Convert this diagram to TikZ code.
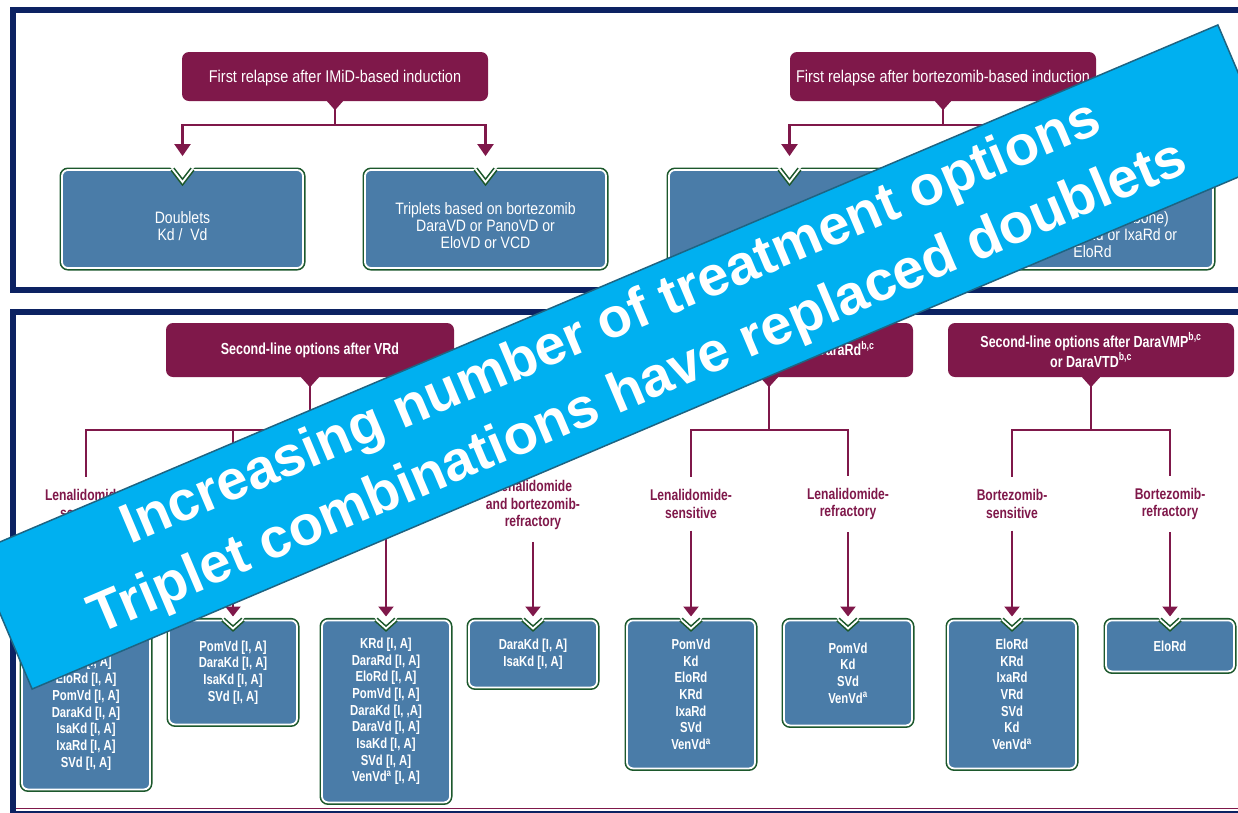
\documentclass[tikz,border=0pt]{standalone}
\usepackage{fontspec}
\setmainfont{Liberation Sans}[FakeStretch=0.78]
\newfontfamily\plainfont{Liberation Sans}[FakeStretch=0.85]
\newfontfamily\bannerfont{Liberation Sans}
\usetikzlibrary{arrows.meta}

\definecolor{relapse}{RGB}{127,24,74}
\definecolor{optfill}{RGB}{74,124,168}
\definecolor{optrim}{RGB}{28,88,44}
\definecolor{panelblue}{RGB}{12,34,98}
\definecolor{bannercyan}{RGB}{0,176,240}
\definecolor{bannerrim}{RGB}{30,100,130}

\tikzset{
  panel/.style={draw=panelblue, line width=6pt},
  relhead/.style={fill=relapse, rounded corners=7pt, text=white, align=center, inner sep=0pt},
  tophead/.style={relhead, minimum width=306pt, minimum height=49pt, text depth=0pt,
    font=\plainfont\fontsize{17}{20}\selectfont},
  sechead/.style={relhead, minimum width=288pt, minimum height=54pt,
    font=\bfseries\fontsize{16}{20}\selectfont},
  optbox/.style={fill=optfill, draw=white, line width=1.8pt, rounded corners=6pt,
    preaction={draw=optrim, line width=5pt}, text=white, align=center, inner sep=0pt,
    minimum width=128pt},
  toptext/.style={text=white, align=center, font=\plainfont\fontsize{16.5}{17}\selectfont},
  druglist/.style={font=\bfseries\fontsize{14.5}{16.7}\selectfont},
  status/.style={text=relapse, align=center, inner ysep=12pt,
    font=\bfseries\fontsize{15.5}{17.5}\selectfont},
  link/.style={draw=relapse, line width=2.2pt},
  bigarrow/.style={-{Triangle[width=16pt,length=12pt]}},
  smallarrow/.style={-{Triangle[width=15pt,length=10pt]}},
  notchline/.style={draw=white, line width=1.8pt, preaction={draw=optrim, line width=5pt}},
  banner/.style={fill=bannercyan, draw=bannerrim, line width=1.5pt, rotate=23,
    minimum width=1351pt, minimum height=148pt, text=white, align=center, inner sep=0pt,
    font=\bannerfont\bfseries\fontsize{56}{70}\selectfont}
}

\begin{document}
\begin{tikzpicture}[x=1pt,y=-1pt]
  \useasboundingbox (0,0) rectangle (1238,812);
  \draw[panel] (13,10) rectangle (1260,290);
  \draw[panel] (13,312) rectangle (1260,814);
  \draw[relapse, line width=1pt] (16,808) -- (1260,808);

  \node[tophead] (imid) at (335,76.5) {First relapse after IMiD-based induction};
  \node[tophead] (btz) at (943,76.5) {First relapse after bortezomib-based induction};

  \node[optbox, minimum width=241pt, minimum height=98pt] (dbl) at (182.5,219) {};
  \node[toptext] (dbl-txt) at (182.5,226) {Doublets\\Kd /\ \ Vd};
  \node[optbox, minimum width=241pt, minimum height=98pt] (vtrip) at (485.5,219) {};
  \node[toptext] (vtrip-txt) at (485.5,226) {Triplets based on bortezomib\\DaraVD or PanoVD or\\EloVD or VCD};
  \node[optbox, minimum width=241pt, minimum height=98pt] (rdbl) at (789.5,219) {};
  \node[toptext] (rdbl-txt) at (789.5,243.5) {Doublets\\Rd};
  \node[optbox, minimum width=241pt, minimum height=98pt] (rtrip) at (1092.5,219) {};
  \node[toptext] (rtrip-txt) at (1092.5,226) {Triplets based on\\(lenalidomide backbone)\\DaraRd or KRd or IxaRd or\\EloRd};

  \foreach \h in {imid,btz}
    \fill[relapse] ([xshift=-8pt]\h.south) -- ([xshift=8pt]\h.south) -- ([yshift=-9pt]\h.south) -- cycle;
  \foreach \h/\b in {imid/dbl, imid/vtrip, btz/rdbl, btz/rtrip}
    \draw[link, bigarrow, shorten >=13pt] (\h.south) -- ++(0,24) -| (\b.north);

  \node[sechead] (vrd) at (310,350) {Second-line options after VRd};
  \node[sechead] (drd) at (769,350) {Second-line options after DaraRd\textsuperscript{b,c}};
  \node[sechead, minimum width=286pt] (dvmp) at (1091,350) {Second-line options after DaraVMP\textsuperscript{b,c}\\or DaraVTD\textsuperscript{b,c}};

  \node[status] (vrd-1) at (86,504) {Lenalidomide-\\sensitive};
  \node[status] (vrd-2) at (233,504) {Lenalidomide-\\refractory};
  \node[status] (vrd-3) at (386,504) {Bortezomib-\\sensitive};
  \node[status] (vrd-4) at (533,505) {Lenalidomide\\and bortezomib-\\refractory};
  \node[status] (drd-1) at (691,504) {Lenalidomide-\\sensitive};
  \node[status] (drd-2) at (848,504) {Lenalidomide-\\refractory};
  \node[status] (dvmp-1) at (1012,504) {Bortezomib-\\sensitive};
  \node[status] (dvmp-2) at (1170,504) {Bortezomib-\\refractory};

  \node[optbox, druglist, anchor=north, minimum height=169pt] (vrd-1-opt) at (86,619.5)
    {DaraRd [I, A]\\KRd [I, A]\\EloRd [I, A]\\PomVd [I, A]\\DaraKd [I, A]\\IsaKd [I, A]\\IxaRd [I, A]\\SVd [I, A]};
  \node[optbox, druglist, anchor=north, minimum height=104pt] (vrd-2-opt) at (233,619.5)
    {PomVd [I, A]\\DaraKd [I, A]\\IsaKd [I, A]\\SVd [I, A]};
  \node[optbox, druglist, anchor=north, minimum height=182pt] (vrd-3-opt) at (386,619.5)
    {KRd [I, A]\\DaraRd [I, A]\\EloRd [I, A]\\PomVd [I, A]\\DaraKd [I, ,A]\\DaraVd [I, A]\\IsaKd [I, A]\\SVd [I, A]\\VenVd\textsuperscript{a} [I, A]};
  \node[optbox, druglist, anchor=north, minimum height=67pt] (vrd-4-opt) at (533,619.5)
    {DaraKd [I, A]\\IsaKd [I, A]};
  \node[optbox, druglist, anchor=north, minimum height=148pt] (drd-1-opt) at (691,619.5)
    {PomVd\\Kd\\EloRd\\KRd\\IxaRd\\SVd\\VenVd\textsuperscript{a}};
  \node[optbox, druglist, anchor=north, minimum height=105pt] (drd-2-opt) at (848,619.5)
    {PomVd\\Kd\\SVd\\VenVd\textsuperscript{a}};
  \node[optbox, druglist, anchor=north, minimum height=148pt] (dvmp-1-opt) at (1012,619.5)
    {EloRd\\KRd\\IxaRd\\VRd\\SVd\\Kd\\VenVd\textsuperscript{a}};
  \node[optbox, druglist, anchor=north, minimum height=51pt] (dvmp-2-opt) at (1170,619.5)
    {EloRd};

  \foreach \h in {vrd,drd,dvmp}
    \fill[relapse] ([xshift=-9pt]\h.south) -- ([xshift=9pt]\h.south) -- ([yshift=-10pt]\h.south) -- cycle;
  \foreach \h/\s in {vrd/vrd-1, vrd/vrd-2, vrd/vrd-3, vrd/vrd-4, drd/drd-1, drd/drd-2, dvmp/dvmp-1, dvmp/dvmp-2} {
    \draw[link] (\h.south) -- ++(0,53) -| (\s.north);
    \draw[link, smallarrow, shorten >=3pt] (\s.south) -- (\s-opt.north);
  }

  \foreach \b/\d in {dbl/13, vtrip/13, rdbl/13, rtrip/13, vrd-1-opt/9, vrd-2-opt/9, vrd-3-opt/9, vrd-4-opt/9,
      drd-1-opt/9, drd-2-opt/9, dvmp-1-opt/9, dvmp-2-opt/9} {
    \fill[white] ([xshift=-13pt,yshift=3pt]\b.north) -- ([xshift=13pt,yshift=3pt]\b.north) -- ([yshift=-\d pt]\b.north) -- cycle;
    \draw[notchline] ([xshift=-10pt]\b.north) -- ([yshift=-\d pt]\b.north) -- ([xshift=10pt]\b.north);
  }

  \node[banner] (msg) at (625,357) {Increasing number of treatment options\\Triplet combinations have replaced doublets};
\end{tikzpicture}
\end{document}
